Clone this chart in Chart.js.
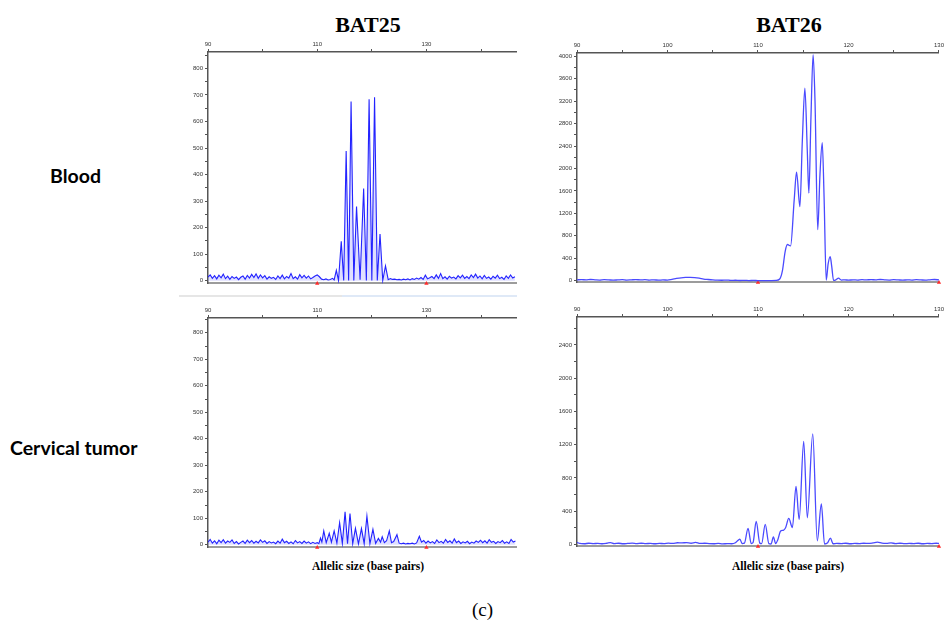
<!DOCTYPE html>
<html lang="en">
<head>
<meta charset="UTF-8">
<title>BAT25 / BAT26 electropherograms</title>
<script src="https://cdn.jsdelivr.net/npm/chart.js"></script>
<style>
  body { margin: 0; background: #fff; width: 945px; height: 621px; position: relative; overflow: hidden; }
  canvas { position: absolute; }
  .txt { position: absolute; white-space: nowrap; color: #000; }
  .title { font-family: 'Liberation Serif', serif; font-weight: bold; font-size: 22px; line-height: 22px; transform: translateX(-50%); }
  .row { font-family: Lato, sans-serif; font-weight: bold; font-size: 19.5px; line-height: 20px; }
  .xlab { font-family: 'Liberation Serif', serif; font-weight: bold; font-size: 11.5px; line-height: 12px; transform: translateX(-50%); }
  .sep { position: absolute; height: 2px; }
</style>
</head>
<body>

<div class="txt title" style="left:368px; top:14px;">BAT25</div>
<div class="txt title" style="left:789px; top:14px;">BAT26</div>
<div class="txt row" style="left:50px; top:166px;">Blood</div>
<div class="txt row" style="left:10px; top:438px;">Cervical tumor</div>
<div class="txt xlab" style="left:368px; top:560px;">Allelic size (base pairs)</div>
<div class="txt xlab" style="left:788px; top:560px;">Allelic size (base pairs)</div>
<div class="txt" style="left:472px; top:600px; font-family:'Liberation Serif', serif; font-size:19px; line-height:19px;">(c)</div>

<div class="sep" style="left:179px; top:295px; width:163px; background:#e6e6e6;"></div>
<div class="sep" style="left:342px; top:295px; width:175px; background:#dfe9f7;"></div>

<canvas id="bat25Blood" width="352" height="255" style="left:168px; top:34px;"></canvas>
<canvas id="bat26Blood" width="408" height="253" style="left:537px; top:35px;"></canvas>
<canvas id="bat25Tumor" width="352" height="253" style="left:168px; top:300px;"></canvas>
<canvas id="bat26Tumor" width="408" height="253" style="left:537px; top:299px;"></canvas>

<script>
// axis ticks (base pairs / RFU)
const bat25SizeTicks = [90, 100, 110, 120, 130, 140];
const bat25SizeLabels = [90, 110, 130];
const bat26SizeTicks = [90, 95, 100, 105, 110, 115, 120, 125, 130];
const bat26SizeLabels = [90, 100, 110, 120, 130];
const bat25RfuTicks = [0, 50, 100, 150, 200, 250, 300, 350, 400, 450, 500, 550, 600, 650, 700, 750, 800, 850];
const bat25RfuLabels = [0, 100, 200, 300, 400, 500, 600, 700, 800];
const bat26BloodRfuTicks = [0, 200, 400, 600, 800, 1000, 1200, 1400, 1600, 1800, 2000, 2200, 2400, 2600, 2800, 3000, 3200, 3400, 3600, 3800, 4000];
const bat26BloodRfuLabels = [0, 400, 800, 1200, 1600, 2000, 2400, 2800, 3200, 3600, 4000];
const bat26TumorRfuTicks = [0, 200, 400, 600, 800, 1000, 1200, 1400, 1600, 1800, 2000, 2200, 2400, 2600];
const bat26TumorRfuLabels = [0, 400, 800, 1200, 1600, 2000, 2400];

// red bin markers on the baseline
const binMarkers = [110, 130];

// traces: [size (bp), signal (RFU)]
const bat25BloodTrace = [
  [90.0,14],[90.4,22],[90.8,9],[91.2,19],[91.6,7],[92.0,21],[92.4,11],[92.8,25],[93.2,8],[93.6,17],
  [94.0,5],[94.4,16],[94.8,9],[95.2,14],[95.6,4],[96.0,13],[96.4,18],[96.8,6],[97.2,20],[97.6,10],
  [98.0,24],[98.4,12],[98.8,26],[99.2,9],[99.6,22],[100.0,11],[100.4,19],[100.8,6],[101.2,15],[101.6,9],
  [102.0,13],[102.4,5],[102.8,18],[103.2,8],[103.6,21],[104.0,7],[104.4,16],[104.8,10],[105.2,27],[105.6,8],
  [106.0,15],[106.4,6],[106.8,23],[107.2,11],[107.6,20],[108.0,10],[108.4,18],[108.8,7],[109.2,12],[109.6,18],
  [110.0,22],[110.4,15],[110.8,6],[111.2,4],[111.6,7],[112.0,3],[112.4,5],[112.8,9],
  [113.1,3],[113.5,39],[113.9,1],[114.4,149],[114.85,1],[115.3,489],[115.75,1],[116.2,675],[116.7,1],
  [117.2,280],[117.85,4],[118.5,348],[119.0,1],[119.5,684],[120.0,1],[120.5,691],[121.0,1],
  [121.5,176],[122.0,1],[122.5,56],[123.0,4],
  [123.4,8],[123.8,5],[124.2,6],[124.6,4],[125.0,5],[125.4,3],[125.8,6],[126.2,4],[126.6,7],[127.0,3],
  [127.4,8],[127.8,5],[128.2,10],[128.6,6],[129.0,12],[129.4,5],[129.8,21],[130.2,7],[130.6,11],[131.0,16],
  [131.4,8],[131.8,22],[132.2,9],[132.6,27],[133.0,8],[133.4,15],[133.8,6],[134.2,17],[134.6,10],[135.0,14],
  [135.4,7],[135.8,19],[136.2,11],[136.6,21],[137.0,9],[137.4,16],[137.8,8],[138.2,22],[138.6,12],[139.0,25],
  [139.4,10],[139.8,18],[140.2,7],[140.6,20],[141.0,9],[141.4,14],[141.8,6],[142.2,17],[142.6,10],[143.0,21],
  [143.4,8],[143.8,13],[144.2,5],[144.6,18],[145.0,9],[145.4,22],[145.8,10],[146.2,15]
];

const bat26BloodTrace = [
  [90,15],[90.5,20],[91,14],[91.5,22],[92,16],[92.5,12],[93,18],[93.5,15],[94,10],[94.5,14],
  [95,18],[95.5,12],[96,16],[96.5,20],[97,14],[97.5,18],[98,12],[98.5,16],[99,10],[99.5,14],
  [100,12],[100.5,25],[101,40],[101.5,52],[102,58],[102.5,60],[103,55],[103.5,45],[104,30],[104.5,22],
  [105,15],[105.5,10],[106,8],[106.5,12],[107,6],[107.5,8],[108,4],[108.5,6],[109,3],[109.5,5],
  [110,2],[110.5,3],[111,2],[111.5,3],[112,5],[112.4,30],[112.7,180],[113.0,520],[113.25,645],[113.6,620],
  [114.0,1440],[114.26,1935],[114.63,1320],[114.9,2500],[115.18,3430],[115.45,2300],[115.62,1560],[115.85,2900],
  [116.09,4030],[116.3,3200],[116.6,910],[116.85,1900],[117.1,2460],[117.3,1500],[117.54,10],[117.75,300],
  [117.98,430],[118.15,250],[118.35,5],[118.6,15],[118.9,45],[119.2,12],[119.6,15],[120,10],
  [120.5,16],[121,12],[121.5,18],[122,14],[122.5,20],[123,15],[123.5,22],[124,16],[124.5,12],[125,18],
  [125.5,14],[126,10],[126.5,16],[127,12],[127.5,18],[128,14],[128.5,10],[129,16],[129.5,22],[130,14]
];

const bat25TumorTrace = [
  [90.0,10],[90.4,20],[90.8,6],[91.2,15],[91.6,4],[92.0,17],[92.4,8],[92.8,19],[93.2,6],[93.6,14],
  [94.0,9],[94.4,18],[94.8,5],[95.2,12],[95.6,3],[96.0,9],[96.4,14],[96.8,5],[97.2,17],[97.6,8],
  [98.0,16],[98.4,6],[98.8,13],[99.2,7],[99.6,18],[100.0,9],[100.4,15],[100.8,5],[101.2,12],[101.6,7],
  [102.0,10],[102.4,4],[102.8,14],[103.2,6],[103.6,21],[104.0,8],[104.4,13],[104.8,5],[105.2,11],[105.6,4],
  [106.0,16],[106.4,7],[106.8,12],[107.2,5],[107.6,14],[108.0,6],[108.4,11],[108.8,4],[109.2,9],[109.6,5],
  [110.0,8],[110.3,4],[110.6,25],[110.85,10],[111.2,52],[111.65,8],[112.2,43],[112.6,10],[113.1,52],[113.6,6],
  [114.1,83],[114.6,5],[115.1,124],[115.55,4],[116.0,118],[116.5,4],[117.0,62],[117.55,3],[118.1,61],[118.6,4],
  [119.1,108],[119.65,4],[120.2,58],[120.7,5],[121.2,24],[121.6,10],[121.9,30],[122.3,8],[122.7,15],[123.2,52],
  [123.6,8],[124.0,12],[124.6,38],[125.0,6],[125.4,4],[125.8,6],[126.2,3],[126.6,5],[127.0,4],[127.4,6],
  [127.8,3],[128.2,7],[128.7,32],[129.1,10],[129.5,16],[129.9,6],
  [130.3,14],[130.7,7],[131.1,12],[131.5,5],[131.9,18],[132.3,8],[132.7,13],[133.1,6],[133.5,20],[133.9,9],
  [134.3,15],[134.7,6],[135.1,22],[135.5,8],[135.9,14],[136.3,5],[136.7,11],[137.1,7],[137.5,13],[137.9,4],
  [138.3,10],[138.7,6],[139.1,14],[139.5,9],[139.9,17],[140.3,8],[140.7,15],[141.1,6],[141.5,19],[141.9,9],
  [142.3,13],[142.7,5],[143.1,12],[143.5,8],[143.9,16],[144.3,6],[144.7,11],[145.1,5],[145.5,20],[145.9,10],
  [146.3,14]
];

const bat26TumorTrace = [
  [90,25],[90.3,12],[90.8,8],[91.3,14],[91.8,10],[92.3,12],[92.8,8],[93.3,14],[93.7,22],[94.1,10],
  [94.6,14],[95.1,8],[95.6,12],[96.1,16],[96.6,10],[97.1,14],[97.6,9],[98.1,13],[98.6,8],[99.1,12],
  [99.6,10],[100.1,15],[100.6,12],[101.1,20],[101.6,18],[102.1,22],[102.6,14],[103.1,25],[103.6,12],[104.1,14],
  [104.6,10],[105.1,8],[105.6,12],[106.1,6],[106.6,10],[107.1,8],[107.5,20],[107.8,50],[108.0,63],[108.25,10],
  [108.5,15],[108.9,194],[109.25,10],[109.45,20],[109.8,277],[110.2,15],[110.4,10],[110.8,241],[111.2,10],[111.45,5],
  [111.7,91],[111.95,10],[112.2,60],[112.5,160],[112.8,170],[113.05,200],[113.4,313],[113.8,202],[114.2,697],[114.55,301],
  [115.05,1239],[115.45,321],[116.05,1330],[116.55,44],[117.0,487],[117.35,5],[117.7,20],[118.0,75],[118.3,8],[118.7,12],
  [119.2,10],[119.7,14],[120.2,8],[120.7,12],[121.2,10],[121.7,14],[122.2,12],[122.7,18],[123.2,28],[123.7,15],
  [124.2,12],[124.7,18],[125.2,10],[125.7,14],[126.2,9],[126.7,12],[127.2,10],[127.7,14],[128.2,8],[128.7,12],
  [129.2,10],[129.7,14],[130,12]
];

Chart.defaults.font.family = "'Liberation Sans', Arial, sans-serif";

// one electropherogram panel: size axis on top, RFU on the left, grey baseline at the bottom
function buildPanel(canvasId, trace, p) {
  const axisColor = '#555';
  return new Chart(document.getElementById(canvasId), {
    type: 'line',
    data: {
      datasets: [
        {
          data: trace.map(d => ({ x: d[0], y: d[1] })),
          borderColor: p.color,
          borderWidth: p.lineWidth,
          backgroundColor: p.fillColor || 'transparent',
          pointRadius: 0,
          tension: 0,
          cubicInterpolationMode: p.smooth ? 'monotone' : 'default',
          fill: p.fillColor ? 'origin' : false,
          xAxisID: 'x',
          yAxisID: 'y'
        },
        {
          data: binMarkers.map(x => ({ x: x, y: p.yMin })),
          showLine: false,
          pointStyle: 'triangle',
          pointRadius: 2.5,
          pointBackgroundColor: '#ff2a2a',
          pointBorderColor: '#ff2a2a',
          pointBorderWidth: 0,
          clip: false,
          xAxisID: 'x',
          yAxisID: 'y'
        }
      ]
    },
    options: {
      responsive: false,
      animation: false,
      devicePixelRatio: 1,
      layout: { padding: { left: 0, top: 0, right: p.padRight, bottom: 3 } },
      plugins: { legend: { display: false }, tooltip: { enabled: false } },
      scales: {
        x: {
          type: 'linear',
          position: 'top',
          min: p.xMin,
          max: p.xMax,
          afterBuildTicks: s => { s.ticks = p.xTicks.map(v => ({ value: v })); },
          afterFit: s => { s.height = 18; },
          ticks: {
            autoSkip: false, maxRotation: 0, padding: 1,
            font: { size: 6 }, color: '#333',
            callback: v => p.xLabels.includes(v) ? String(v) : ''
          },
          grid: { drawOnChartArea: false, tickLength: 3, color: axisColor },
          border: { color: axisColor, width: 1.5 }
        },
        xb: {
          type: 'linear',
          position: 'bottom',
          min: p.xMin,
          max: p.xMax,
          afterFit: s => { s.height = 0; },
          ticks: { display: false },
          grid: { display: false },
          border: { color: '#9c9c9c', width: 2 }
        },
        y: {
          type: 'linear',
          position: 'left',
          min: p.yMin,
          max: p.yMax,
          afterBuildTicks: s => { s.ticks = p.yTicks.map(v => ({ value: v })); },
          afterFit: s => { s.width = 40; },
          ticks: {
            autoSkip: false, padding: 2,
            font: { size: 6 }, color: '#333',
            callback: v => p.yLabels.includes(v) ? String(v) : ''
          },
          grid: { drawOnChartArea: false, tickLength: 3, color: axisColor },
          border: { color: axisColor, width: 1.5 }
        }
      }
    }
  });
}

buildPanel('bat25Blood', bat25BloodTrace, {
  xMin: 90, xMax: 146.4, xTicks: bat25SizeTicks, xLabels: bat25SizeLabels,
  yMin: -10, yMax: 862, yTicks: bat25RfuTicks, yLabels: bat25RfuLabels,
  color: '#2323ff', lineWidth: 1.1, smooth: false, padRight: 3,
  fillColor: 'rgba(110,110,255,0.22)'
});
buildPanel('bat26Blood', bat26BloodTrace, {
  xMin: 90, xMax: 130, xTicks: bat26SizeTicks, xLabels: bat26SizeLabels,
  yMin: -30, yMax: 4058, yTicks: bat26BloodRfuTicks, yLabels: bat26BloodRfuLabels,
  color: '#4a4aff', lineWidth: 1.3, smooth: true, padRight: 2
});
buildPanel('bat25Tumor', bat25TumorTrace, {
  xMin: 90, xMax: 146.4, xTicks: bat25SizeTicks, xLabels: bat25SizeLabels,
  yMin: -10, yMax: 856, yTicks: bat25RfuTicks, yLabels: bat25RfuLabels,
  color: '#2323ff', lineWidth: 1.1, smooth: false, padRight: 3,
  fillColor: 'rgba(110,110,255,0.22)'
});
buildPanel('bat26Tumor', bat26TumorTrace, {
  xMin: 90, xMax: 130, xTicks: bat26SizeTicks, xLabels: bat26SizeLabels,
  yMin: -24, yMax: 2736, yTicks: bat26TumorRfuTicks, yLabels: bat26TumorRfuLabels,
  color: '#4a4aff', lineWidth: 1.3, smooth: true, padRight: 2
});
</script>
</body>
</html>
